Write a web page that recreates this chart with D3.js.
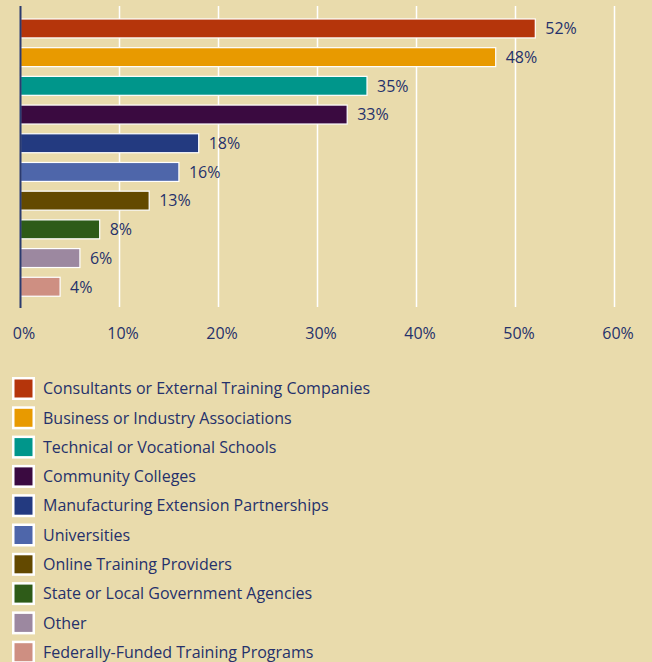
<!DOCTYPE html>
<html lang="en">
<head>
<meta charset="utf-8">
<title>Training sources</title>
<script src="https://cdn.jsdelivr.net/npm/d3@7"></script>
<style>
  html, body { margin: 0; padding: 0; background: #E9DBAC; }
  text { font-family: "Open Sans", sans-serif; fill: #25316B; font-weight: 500; }
  .grid line { stroke: #fff; stroke-width: 1.5px; }
  .bar { stroke: #fff; stroke-width: 1.2px; }
</style>
</head>
<body>
<div id="chart"></div>
<script>
  var width = 652, height = 662;

  // data
  var categories = [
    "Consultants or External Training Companies",
    "Business or Industry Associations",
    "Technical or Vocational Schools",
    "Community Colleges",
    "Manufacturing Extension Partnerships",
    "Universities",
    "Online Training Providers",
    "State or Local Government Agencies",
    "Other",
    "Federally-Funded Training Programs"
  ];
  var values = [52, 48, 35, 33, 18, 16, 13, 8, 6, 4];
  var colors = ["#B5350B", "#E89A00", "#00968B", "#3A0A40", "#233A80",
                "#4E66AA", "#634900", "#2E5B18", "#9C88A0", "#CE8F82"];
  var ticks = [0, 10, 20, 30, 40, 50, 60];

  var svg = d3.select("#chart").append("svg")
    .attr("width", width)
    .attr("height", height);

  var x = d3.scaleLinear().domain([0, 60]).range([20.5, 614.5]);
  var y = d3.scaleBand().domain(categories)
    .range([14.1, 301.1])
    .paddingInner(0.34)
    .paddingOuter(0.17);

  // gridlines
  svg.append("g").attr("class", "grid")
    .selectAll("line")
    .data(ticks.slice(1))
    .enter().append("line")
    .attr("x1", function (d) { return x(d); })
    .attr("x2", function (d) { return x(d); })
    .attr("y1", 6)
    .attr("y2", 307);

  // bars
  svg.append("g").selectAll("rect")
    .data(categories)
    .enter().append("rect")
    .attr("class", "bar")
    .attr("x", x(0))
    .attr("y", function (d) { return y(d); })
    .attr("width", function (d, i) { return x(values[i]) - x(0); })
    .attr("height", y.bandwidth())
    .attr("fill", function (d, i) { return colors[i]; });

  // value labels
  svg.append("g").selectAll("text")
    .data(categories)
    .enter().append("text")
    .attr("x", function (d, i) { return x(values[i]) + 10; })
    .attr("y", function (d) { return y(d) + y.bandwidth() / 2; })
    .attr("dy", "0.36em")
    .style("font-size", "16px")
    .text(function (d, i) { return values[i] + "%"; });

  // axis line
  svg.append("line")
    .attr("x1", x(0)).attr("x2", x(0))
    .attr("y1", 6).attr("y2", 308)
    .attr("stroke", "#2B3A6E")
    .attr("stroke-width", 2);

  // x axis labels
  var xAxis = d3.axisBottom(x)
    .tickValues(ticks)
    .tickSize(0)
    .tickPadding(0)
    .tickFormat(function (d) { return d + "%"; });

  var gx = svg.append("g")
    .attr("transform", "translate(3,328)")
    .call(xAxis);
  gx.select(".domain").remove();
  gx.selectAll("text")
    .attr("fill", null)
    .style("font-size", "16px")
    .style("font-weight", "500")
    .style("font-family", "\"Open Sans\", sans-serif");

  // legend
  var legend = svg.append("g").selectAll("g")
    .data(categories)
    .enter().append("g")
    .attr("transform", function (d, i) { return "translate(12," + (377 + i * 29.3) + ")"; });

  legend.append("rect")
    .attr("width", 23)
    .attr("height", 23)
    .attr("fill", "#fff");
  legend.append("rect")
    .attr("x", 2.5)
    .attr("y", 2.5)
    .attr("width", 18)
    .attr("height", 18)
    .attr("fill", function (d, i) { return colors[i]; });
  legend.append("text")
    .attr("x", 31)
    .attr("y", 11.5)
    .attr("dy", "0.36em")
    .style("font-size", "16px")
    .text(function (d) { return d; });
</script>
</body>
</html>
